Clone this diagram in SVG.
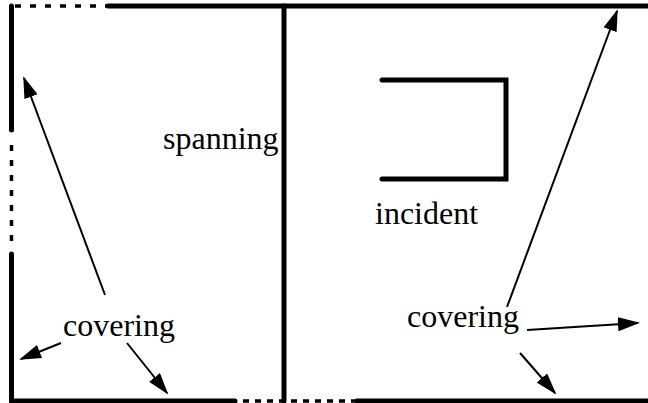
<svg xmlns="http://www.w3.org/2000/svg" width="648" height="403" viewBox="0 0 648 403">
<style>
.wall{stroke:#000;stroke-width:5;fill:none;stroke-linecap:round}
.dash{stroke:#000;stroke-width:3.5;fill:none;stroke-dasharray:6 9}
.dashb{stroke:#000;stroke-width:3.5;fill:none;stroke-dasharray:6 6}
.arr{stroke:#000;stroke-width:2;fill:none;marker-end:url(#ah)}
text{font-family:"Liberation Serif","Times New Roman",serif;font-size:32px;fill:#000}
</style>
<defs>
<marker id="ah" markerWidth="22" markerHeight="14" refX="20" refY="7" orient="auto" markerUnits="userSpaceOnUse">
<path d="M0,0 L22,7 L0,14 Z" fill="#000"/>
</marker>
</defs>
<g id="walls">
<line class="dash" x1="15" y1="6" x2="108" y2="6"/>
<line class="wall" x1="108" y1="6" x2="650" y2="6"/>
<line class="wall" x1="11.5" y1="6" x2="11.5" y2="130"/>
<line class="dash" x1="11.5" y1="145" x2="11.5" y2="250"/>
<line class="wall" x1="11.5" y1="254" x2="11.5" y2="401"/>
<line class="wall" x1="11.5" y1="401" x2="235" y2="401"/>
<line class="dashb" x1="243" y1="401" x2="355" y2="401"/>
<line class="wall" x1="357" y1="401" x2="650" y2="401"/>
<line class="wall" x1="284" y1="6" x2="284" y2="401"/>
</g>
<g id="incident-shape">
<polyline class="wall" points="382,80 506,80 506,179 382,179"/>
</g>
<g id="labels">
<text x="163" y="149">spanning</text>
<text x="375" y="224">incident</text>
<text x="63" y="336">covering</text>
<text x="407" y="327">covering</text>
</g>
<g id="connectors">
<line class="arr" x1="105" y1="295" x2="24" y2="78"/>
<line class="arr" x1="61" y1="343" x2="21" y2="359"/>
<line class="arr" x1="127" y1="343" x2="167" y2="393"/>
<line class="arr" x1="507" y1="307" x2="617" y2="11"/>
<line class="arr" x1="527" y1="330" x2="638" y2="323"/>
<line class="arr" x1="520" y1="353" x2="555" y2="393"/>
</g>
</svg>
